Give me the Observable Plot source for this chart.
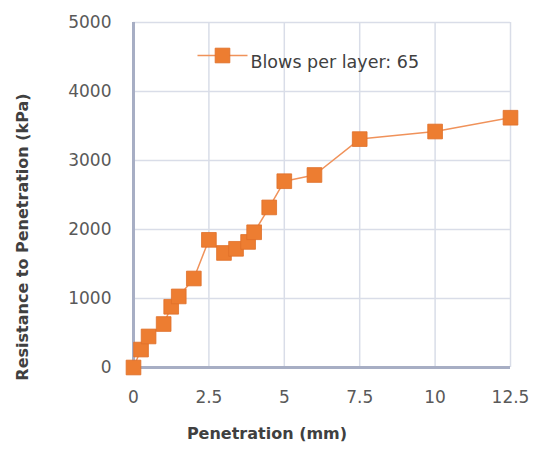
<!DOCTYPE html>
<html>
<head>
<meta charset="utf-8">
<script src="https://cdn.jsdelivr.net/npm/d3@7"></script>
<script src="https://cdn.jsdelivr.net/npm/@observablehq/plot@0.6"></script>
<style>
  html, body { margin: 0; padding: 0; background: #ffffff; }
  #chart { width: 538px; height: 451px; }
</style>
</head>
<body>
<div id="chart"></div>
<script>
const penetration = [0, 0.25, 0.5, 1.0, 1.25, 1.5, 2.0, 2.5, 3.0, 3.4, 3.8, 4.0, 4.5, 5.0, 6.0, 7.5, 10.0, 12.5];
const resistance = [0, 260, 450, 630, 880, 1030, 1290, 1850, 1660, 1720, 1820, 1960, 2320, 2700, 2790, 3310, 3420, 3620];
const xTicks = [0, 2.5, 5, 7.5, 10, 12.5];
const yTicks = [0, 1000, 2000, 3000, 4000, 5000];
const seriesName = "Blows per layer: 65";
const xTitle = "Penetration (mm)";
const yTitle = "Resistance to Penetration (kPa)";

const data = penetration.map((p, i) => ({x: p, y: resistance[i]}));

const orange = "#ED7D31";
const font = "'DejaVu Sans', sans-serif";
const legendLine = {draw(ctx) { ctx.moveTo(-25, 0); ctx.lineTo(25, 0); }};

const chart = Plot.plot({
  width: 538,
  height: 451,
  marginLeft: 133,
  marginRight: 28,
  marginTop: 22,
  marginBottom: 84,
  style: {fontFamily: font, background: "#ffffff", overflow: "visible"},
  x: {domain: [0, 12.5], ticks: xTicks},
  y: {domain: [0, 5000], ticks: yTicks},
  marks: [
    Plot.gridX(xTicks, {stroke: "#d9dde8", strokeOpacity: 1, strokeWidth: 1.5}),
    Plot.gridY(yTicks, {stroke: "#d9dde8", strokeOpacity: 1, strokeWidth: 1.5}),
    Plot.ruleX([0], {stroke: "#a7aec4", strokeWidth: 3}),
    Plot.ruleY([0], {stroke: "#a7aec4", strokeWidth: 3}),
    Plot.axisX(xTicks, {tickSize: 0, tickPadding: 23, fontSize: 17, fill: "#595959", label: null, tickFormat: d => String(d)}),
    Plot.axisY(yTicks, {tickSize: 0, tickPadding: 22, fontSize: 17, fill: "#595959", label: null, tickFormat: d => String(d)}),
    Plot.line(data, {x: "x", y: "y", stroke: "#f0925a", strokeWidth: 1.5}),
    Plot.dot(data, {x: "x", y: "y", symbol: "square", r: 8.3, fill: orange, stroke: "#e0702a", strokeWidth: 0.8}),
    // legend
    Plot.dot([seriesName], {frameAnchor: "top-left", dx: 89, dy: 33, symbol: legendLine, r: 8, stroke: "#f0925a", strokeWidth: 1.5, fill: "none"}),
    Plot.dot([seriesName], {frameAnchor: "top-left", dx: 89, dy: 33, symbol: "square", r: 8.3, fill: orange, stroke: "#e0702a", strokeWidth: 0.8}),
    Plot.text([seriesName], {frameAnchor: "top-left", dx: 117, dy: 33, text: d => d, textAnchor: "start", fontSize: 17.5, fill: "#404040"}),
    // axis titles
    Plot.text([xTitle], {frameAnchor: "bottom", dx: -55, dy: 71, text: d => d, textAnchor: "middle", fontSize: 16, fontWeight: "bold", fill: "#404040"}),
    Plot.text([yTitle], {frameAnchor: "left", dx: -111, dy: 42, rotate: -90, text: d => d, textAnchor: "middle", fontSize: 16, fontWeight: "bold", fill: "#404040"})
  ]
});
document.getElementById("chart").appendChild(chart);
</script>
</body>
</html>
